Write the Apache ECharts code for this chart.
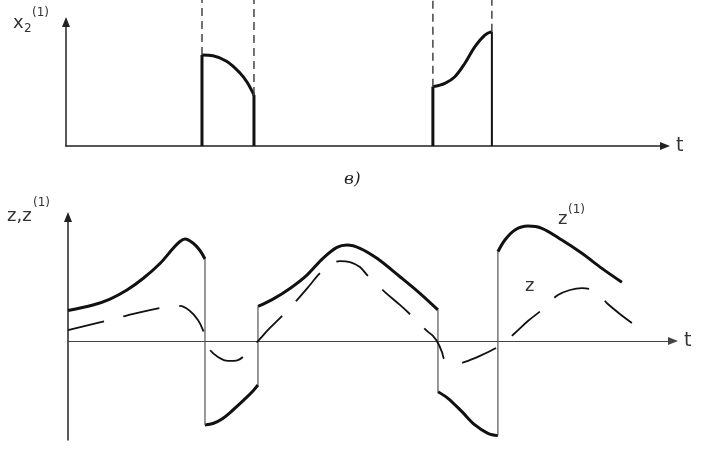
<!DOCTYPE html>
<html>
<head>
<meta charset="utf-8">
<script src="https://cdn.jsdelivr.net/npm/echarts@6/dist/echarts.min.js"></script>
<style>html,body{margin:0;padding:0;background:#fff}#c{width:710px;height:449px}</style>
</head>
<body>
<div id="c"></div>
<script>
// ---- top panel: x2^(1) pulses ----
const pulse1T = [22.52, 24.34, 26.66, 28.81, 29.97, 31.13];
const pulse1X = [7.05, 7.00, 6.55, 5.66, 4.96, 3.95];
const pulse2T = [60.76, 62.75, 64.40, 66.06, 67.72, 69.37, 70.53];
const pulse2X = [4.60, 4.86, 5.37, 6.41, 7.70, 8.60, 8.86];
const guideTop = 11.4;

// ---- bottom panel: z^(1) (solid) pieces between switchings ----
const z1Seg1T = [0, 4.10, 6.89, 9.67, 12.30, 15.08, 17.21, 18.36, 19.18, 20.49, 21.64, 22.46];
const z1Seg1V = [2.37, 2.80, 3.26, 3.96, 4.85, 6.02, 7.18, 7.73, 7.92, 7.61, 7.03, 6.37];
const z1Seg2T = [22.46, 23.77, 25.25, 27.05, 29.02, 30.33, 31.15];
const z1Seg2V = [-6.52, -6.41, -6.06, -5.36, -4.50, -3.88, -3.42];
const z1Seg3T = [31.15, 33.61, 36.39, 39.18, 41.80, 44.10, 45.74, 47.87, 50.66, 54.43, 57.70, 60.66];
const z1Seg3V = [2.68, 3.25, 4.08, 5.12, 6.42, 7.27, 7.45, 7.20, 6.42, 4.99, 3.70, 2.41];
const z1Seg4T = [60.66, 62.30, 64.59, 66.72, 68.85, 70.49];
const z1Seg4V = [-3.94, -4.45, -5.49, -6.52, -7.17, -7.35];
const z1Seg5T = [70.49, 71.64, 73.28, 75.41, 77.70, 80.98, 84.26, 87.54, 90.82];
const z1Seg5V = [6.93, 7.84, 8.62, 8.93, 8.75, 7.84, 6.81, 5.64, 4.56];

// ---- bottom panel: z (dashed) ----
const zT = [0, 6.07, 9.34, 15.08, 18.36, 20.0, 21.31, 22.13, 22.62, 23.28, 24.59, 26.23, 27.87, 29.18,
  31.15, 33.11, 35.25, 37.54, 39.67, 41.31, 42.95, 44.59, 46.23, 47.87, 49.18, 51.97, 54.43, 56.39,
  58.85, 59.84, 60.66, 61.31, 61.80, 63.44, 65.08, 67.54, 70.49, 71.80, 73.11, 75.41, 77.87, 79.02,
  80.33, 82.30, 84.26, 85.90, 87.21, 88.52, 90.49, 92.46];
const zV = [0.85, 1.55, 1.94, 2.56, 2.72, 2.33, 1.63, 0.85, 0.08, -0.70, -1.24, -1.55, -1.48, -1.01,
  0, 1.01, 2.02, 3.18, 4.35, 5.28, 5.90, 6.21, 6.13, 5.75, 5.05, 3.80, 2.80, 1.94,
  0.78, 0.39, -0.16, -0.85, -1.48, -1.79, -1.63, -1.16, -0.47, 0, 0.54, 1.55, 2.48, 3.03,
  3.57, 3.96, 4.11, 3.96, 3.49, 2.87, 2.10, 1.40];

const zip = (a, b) => a.map((v, i) => [v, b[i]]);
const INK = '#111';

function lineS(grid, data, opts) {
  return Object.assign({
    type: 'line', xAxisIndex: grid, yAxisIndex: grid, data: data,
    symbol: 'none', clip: false, silent: true, animation: false,
    lineStyle: { color: INK, width: 3 }
  }, opts || {});
}
const SMOOTH = { smooth: 0.35 };

const series = [];
// top pulses: curved tops
series.push(lineS(0, zip(pulse1T, pulse1X), SMOOTH));
series.push(lineS(0, zip(pulse2T, pulse2X), SMOOTH));
// pulse edges
series.push(lineS(0, [[pulse1T[0], 0], [pulse1T[0], pulse1X[0]]]));
series.push(lineS(0, [[pulse1T[pulse1T.length - 1], 0], [pulse1T[pulse1T.length - 1], pulse1X[pulse1X.length - 1]]]));
series.push(lineS(0, [[pulse2T[0], 0], [pulse2T[0], pulse2X[0]]]));
series.push(lineS(0, [[pulse2T[pulse2T.length - 1], 0], [pulse2T[pulse2T.length - 1], pulse2X[pulse2X.length - 1]]], { lineStyle: { color: INK, width: 2 } }));
// dashed guides above pulse edges
[[pulse1T[0], pulse1X[0]], [pulse1T[pulse1T.length - 1], pulse1X[pulse1X.length - 1]],
 [pulse2T[0], pulse2X[0]], [pulse2T[pulse2T.length - 1], pulse2X[pulse2X.length - 1]]].forEach(p => {
  series.push(lineS(0, [[p[0], p[1]], [p[0], guideTop]], { lineStyle: { color: '#444', width: 1.5, type: [8, 5] } }));
});

// bottom: z^(1) thick pieces and thin switching jumps
const segs = [[z1Seg1T, z1Seg1V], [z1Seg2T, z1Seg2V], [z1Seg3T, z1Seg3V], [z1Seg4T, z1Seg4V], [z1Seg5T, z1Seg5V]];
segs.forEach(s => series.push(lineS(1, zip(s[0], s[1]), SMOOTH)));
for (let i = 0; i < segs.length - 1; i++) {
  const a = segs[i], b = segs[i + 1];
  series.push(lineS(1, [[a[0][a[0].length - 1], a[1][a[1].length - 1]], [b[0][0], b[1][0]]], { lineStyle: { color: '#555', width: 1.2 } }));
}
// z dashed
series.push(lineS(1, zip(zT, zV), Object.assign({}, SMOOTH, { lineStyle: { color: INK, width: 1.8, type: [37, 20] } })));

function xAx(grid, lineW, color) {
  return {
    type: 'value', gridIndex: grid, min: 0, max: 99.2,
    axisLine: { show: true, onZero: true, symbol: ['none', 'triangle'], symbolSize: [8, 10], lineStyle: { color: color, width: lineW } },
    axisTick: { show: false }, axisLabel: { show: false }, splitLine: { show: false },
    name: 't', nameLocation: 'end', nameGap: 11,
    nameTextStyle: { fontSize: 19, color: '#333', fontFamily: 'DejaVu Sans', verticalAlign: 'middle', padding: [0, 0, 2, 0] }
  };
}
function yAx(grid, min, max) {
  return {
    type: 'value', gridIndex: grid, min: min, max: max,
    axisLine: { show: true, onZero: true, symbol: ['none', 'triangle'], symbolSize: [8, 10], lineStyle: { color: '#222', width: 1.5 } },
    axisTick: { show: false }, axisLabel: { show: false }, splitLine: { show: false }
  };
}

const txt = (x, y, s, size, extra) => ({
  type: 'text', x: x, y: y, silent: true,
  style: Object.assign({ text: s, fontSize: size, fontFamily: 'DejaVu Sans', fill: '#333', verticalAlign: 'middle', align: 'left' }, extra || {})
});

const chart = echarts.init(document.getElementById('c'), null, { renderer: 'canvas' });
chart.setOption({
  animation: false,
  backgroundColor: '#fff',
  grid: [
    { left: 66, right: 45, top: 22, height: 124 },
    { left: 68, right: 37, top: 217, height: 223 }
  ],
  xAxis: [xAx(0, 1.5, '#222'), xAx(1, 1.1, '#444')],
  yAxis: [yAx(0, 0, 9.61), yAx(1, -7.69, 9.63)],
  series: series,
  graphic: [
    txt(13, 23, 'x', 18), txt(24, 29, '2', 12), txt(32, 13, '(1)', 12),
    txt(344, 180, 'в)', 17, { fontFamily: 'DejaVu Serif', fontStyle: 'italic', fill: '#222' }),
    txt(7, 216, 'z,z', 18), txt(33, 203, '(1)', 12),
    txt(558, 219, 'z', 18), txt(568, 210, '(1)', 12),
    txt(525, 286, 'z', 18)
  ]
});
</script>
</body>
</html>
